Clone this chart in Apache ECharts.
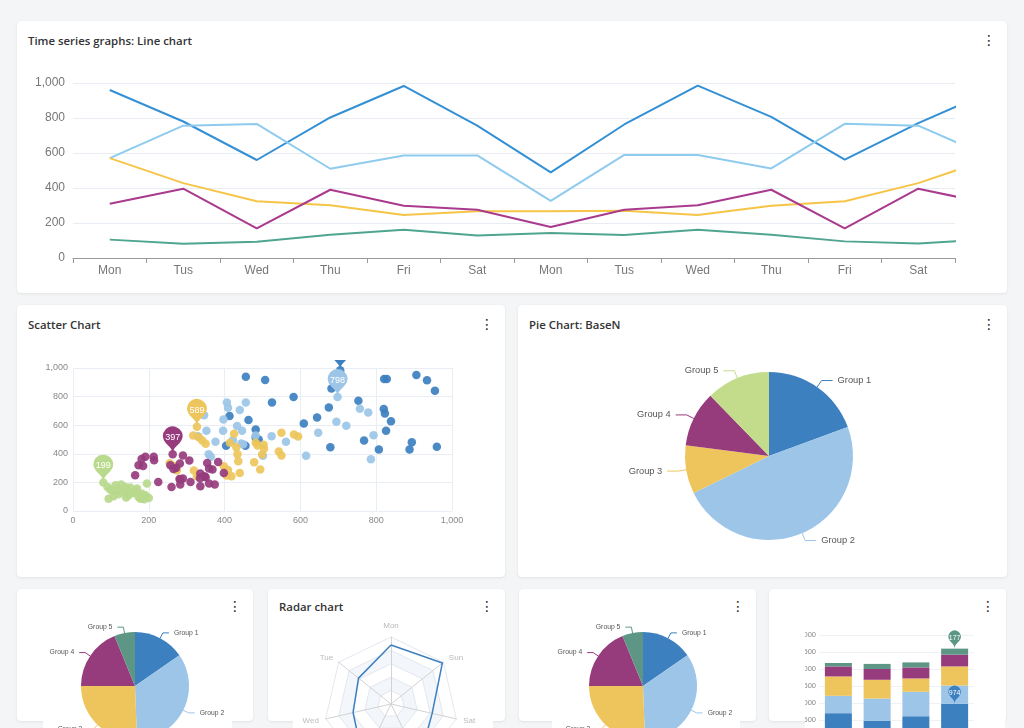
<!DOCTYPE html>
<html><head><meta charset="utf-8">
<script src="https://cdn.jsdelivr.net/npm/echarts@6/dist/echarts.min.js"></script>
<style>
html,body{margin:0;padding:0;width:1024px;height:728px;overflow:hidden;background:#f4f5f7;}
.card{position:absolute;background:#fff;border-radius:4px;box-shadow:0 1px 3px rgba(0,0,0,0.07),0 0 1px rgba(0,0,0,0.06);}
.title{position:absolute;left:11px;top:12px;font-family:'Open Sans',sans-serif;font-weight:600;font-size:11.4px;color:#333;line-height:16px;white-space:nowrap;}
.kebab{position:absolute;right:11px;top:10px;font-family:'DejaVu Sans',sans-serif;font-size:14px;color:#222;line-height:18px;}
.chart{position:absolute;z-index:2;}
.low .title{top:10px;}
.low .kebab{top:8px;}
</style></head>
<body>
<div class="card" style="left:17px;top:21px;width:990px;height:272px;"><div class="title">Time series graphs: Line chart</div><div class="kebab">⋮</div></div>
<div class="card" style="left:17px;top:305px;width:488px;height:272px;"><div class="title">Scatter Chart</div><div class="kebab">⋮</div></div>
<div class="card" style="left:518px;top:305px;width:489px;height:272px;"><div class="title">Pie Chart: BaseN</div><div class="kebab">⋮</div></div>
<div class="card low" style="left:17px;top:589px;width:236px;height:132px;"><div class="kebab">⋮</div></div>
<div class="card low" style="left:268px;top:589px;width:237px;height:132px;"><div class="title">Radar chart</div><div class="kebab">⋮</div></div>
<div class="card low" style="left:519px;top:589px;width:237px;height:132px;"><div class="kebab">⋮</div></div>
<div class="card low" style="left:769px;top:589px;width:237px;height:132px;"><div class="kebab">⋮</div></div>

<div id="cLine" class="chart" style="left:17px;top:60px;width:990px;height:233px;"></div>
<div id="cScatter" class="chart" style="left:17px;top:360px;width:488px;height:217px;"></div>
<div id="cPie" class="chart" style="left:518px;top:340px;width:489px;height:237px;"></div>
<div id="cPie2" class="chart" style="left:43px;top:615px;width:189px;height:130px;background:#fff;"></div>
<div id="cRadar" class="chart" style="left:293px;top:612px;width:200px;height:140px;background:#fff;"></div>
<div id="cPie3" class="chart" style="left:552px;top:615px;width:188px;height:130px;background:#fff;"></div>
<div id="cBar" class="chart" style="left:805px;top:620px;width:200px;height:130px;background:#fff;"></div>

<script>
// ---------- data ----------
const lineDays = ['Mon','Tus','Wed','Thu','Fri','Sat','Mon','Tus','Wed','Thu','Fri','Sat'];
const lineDarkBlue  = [960, 780, 560, 803, 983, 756, 489, 763, 985, 806, 562, 771, 955];
const lineLightBlue = [571, 756, 766, 510, 586, 586, 326, 589, 589, 512, 767, 756, 574];
const lineYellow    = [571, 428, 324, 301, 246, 267, 267, 270, 246, 299, 324, 428, 570];
const linePurple    = [310, 396, 169, 390, 299, 276, 177, 276, 301, 390, 169, 396, 308];
const lineTeal      = [105, 82, 93, 133, 162, 129, 143, 131, 162, 133, 95, 83, 107];

const scatterDarkBlue = [[456,939],[507,916],[525,759],[582,797],[413,664],[463,636],[404,456],[455,456],[482,570],[482,514],[490,500],[609,612],[644,654],[675,724],[682,857],[679,446],[753,771],[768,493],[807,430],[820,713],[823,682],[826,561],[839,628],[821,923],[828,923],[888,430],[894,481],[906,951],[934,914],[955,841],[960,449],[705,985]];
const scatterLightBlue = [[346,670],[352,561],[330,523],[376,484],[358,397],[364,379],[396,561],[397,640],[406,759],[409,722],[440,706],[456,759],[433,594],[446,561],[422,495],[444,472],[449,467],[501,386],[524,523],[562,484],[615,386],[647,547],[695,624],[698,798],[721,596],[757,715],[779,689],[793,530],[786,362],[482,528]];
const scatterYellow = [[327,589],[317,528],[332,516],[341,493],[350,470],[255,334],[270,313],[274,283],[319,283],[327,243],[398,313],[409,287],[405,248],[418,243],[414,477],[425,540],[431,446],[434,397],[436,348],[440,266],[478,341],[482,477],[487,458],[494,290],[503,463],[504,435],[499,395],[550,547],[583,535],[594,521],[543,416],[550,388]];
const scatterPurple = [[164,250],[173,320],[185,315],[191,379],[213,379],[214,355],[225,203],[257,320],[263,397],[260,168],[272,301],[282,332],[290,388],[283,220],[283,185],[290,227],[307,353],[310,203],[336,262],[336,173],[354,336],[359,297],[368,290],[347,243],[359,192],[374,185],[383,343],[398,266],[181,364],[265,294],[281,224],[350,236],[335,229]];
const scatterGreen = [[80,199],[91,168],[98,150],[112,180],[127,185],[138,168],[151,164],[169,157],[195,192],[94,86],[107,103],[120,145],[135,133],[147,110],[160,126],[173,98],[182,121],[191,110],[200,91],[178,86],[188,82],[120,117],[132,145],[155,133],[105,140],[165,140],[185,105],[140,95]];

const pieGroups = ['Group 1','Group 2','Group 3','Group 4','Group 5'];
const pieBigValues = [19.4, 48.4, 9.3, 10.7, 12.3];
const pieSmallValues = [15.4, 34.0, 25.6, 18.8, 6.2];

const radarDays = ['Mon','Tue','Wed','Thu','Fri','Sat','Sun'];
const radarValues = [88, 62, 58, 95, 96, 63, 98];

const barCats = ['A','B','C','D'];
const barDarkBlue  = [700, 481, 611, 974];
const barLightBlue = [511, 650, 718, 541];
const barYellow    = [570, 552, 393, 561];
const barPurple    = [295, 317, 325, 346];
const barTeal      = [101, 150, 147, 177];

const yTicks = {min:0, max:1000, interval:200};

// ---------- helpers ----------
const FONT = "'Liberation Sans', Arial, sans-serif";
const fmt = v => Number(v).toLocaleString('en-US');
function mk(id){ return echarts.init(document.getElementById(id), null, {renderer:'canvas'}); }

// ---------- line chart ----------
const lineColors = ['#3490d4','#8ecbee','#f6c548','#a93a8d','#4fa58f'];
const lineSets = [lineDarkBlue, lineLightBlue, lineYellow, linePurple, lineTeal];
mk('cLine').setOption({
  animation:false,
  textStyle:{fontFamily:FONT},
  grid:{left:56, top:23, width:882, height:175, outerBoundsMode:'none', containLabel:false},
  xAxis:{type:'category', data:lineDays, max:lineDays.length-1, boundaryGap:true,
    axisLine:{lineStyle:{color:'#999', width:1}},
    axisTick:{show:true, length:5, lineStyle:{color:'#999'}},
    axisLabel:{color:'#777', fontSize:12, margin:7, fontFamily:FONT},
    splitLine:{show:false}},
  yAxis:{type:'value', min:yTicks.min, max:yTicks.max, interval:yTicks.interval,
    axisLine:{show:false}, axisTick:{show:false},
    axisLabel:{color:'#777', fontSize:12, margin:8, formatter:fmt, fontFamily:FONT},
    splitLine:{lineStyle:{color:'#e8edf3'}}},
  series: lineSets.map((d,i)=>({type:'line', data:d, showSymbol:false, symbol:'none', clip:true,
    lineStyle:{color:lineColors[i], width:2}, itemStyle:{color:lineColors[i]}}))
});

// ---------- scatter chart ----------
const scatColors = ['#3d80c0','#9cc5e8','#edc55c','#963c7d','#b9d98c'];
const scatSets = [scatterDarkBlue, scatterLightBlue, scatterYellow, scatterPurple, scatterGreen];
const scatAxis = {type:'value', min:0, max:1000, interval:200,
  axisLine:{show:false}, axisTick:{show:false},
  axisLabel:{color:'#888', fontSize:9, margin:5, formatter:fmt, fontFamily:FONT},
  splitLine:{lineStyle:{color:'#e9eef5'}}};
mk('cScatter').setOption({
  animation:false,
  textStyle:{fontFamily:FONT},
  grid:{left:56, top:8, width:379, height:143, outerBoundsMode:'none', containLabel:false},
  xAxis: Object.assign({}, scatAxis),
  yAxis: Object.assign({}, scatAxis),
  series: scatSets.map((d,i)=>({type:'scatter', data:d, symbolSize:8.5,
    itemStyle:{color:scatColors[i], opacity:0.92},
    markPoint:{symbol:'pin', symbolSize:[33,32], data:[{type:'max'}],
      itemStyle:{color:scatColors[i]},
      label:{color:'#fff', fontSize:9, fontFamily:FONT}}}))
});

// ---------- pies ----------
const pieColorsBig = ['#3d80c0','#9cc5e8','#edc55c','#963c7d','#c3dc8c'];
const pieColorsSmall = ['#3d80c0','#9cc5e8','#edc55c','#963c7d','#5e9685'];
mk('cPie').setOption({
  animation:false,
  textStyle:{fontFamily:FONT},
  series:[{type:'pie', radius:84, center:[251,116], startAngle:90, clockwise:true,
    data: pieGroups.map((g,i)=>({name:g, value:pieBigValues[i], itemStyle:{color:pieColorsBig[i]}})),
    itemStyle:{borderWidth:0, borderRadius:0},
    label:{formatter:'{b}', color:'#555', fontSize:9.3, fontFamily:FONT},
    labelLine:{length:8, length2:11, lineStyle:{width:1}}}]
});
function smallPie(id, cx){
  mk(id).setOption({
    animation:false,
    textStyle:{fontFamily:FONT},
    series:[{type:'pie', radius:54, center:[cx,71], startAngle:90, clockwise:true,
      data: pieGroups.map((g,i)=>({name:g, value:pieSmallValues[i], itemStyle:{color:pieColorsSmall[i]}})),
      itemStyle:{borderWidth:0, borderRadius:0},
      label:{formatter:'{b}', color:'#555', fontSize:6.8, fontFamily:FONT, overflow:'none'},
      labelLine:{length:6, length2:6, lineStyle:{width:1}}}]
  });
}
smallPie('cPie2', 92);
smallPie('cPie3', 91);

// ---------- radar ----------
mk('cRadar').setOption({
  animation:false,
  textStyle:{fontFamily:FONT},
  radar:{center:[98,92], radius:67, startAngle:90, splitNumber:5, shape:'polygon',
    indicator: radarDays.map(d=>({name:d, max:100})),
    axisName:{color:'#bbb', fontSize:8, fontFamily:FONT}, nameGap:7,
    splitLine:{lineStyle:{color:'#e3e7ee'}},
    splitArea:{show:true, areaStyle:{color:['#ffffff','#f3f6fb']}},
    axisLine:{lineStyle:{color:'#d3d3d3'}}},
  series:[{type:'radar', symbol:'none', data:[{value:radarValues, name:'Week'}],
    lineStyle:{color:'#3d80c0', width:1.5}, itemStyle:{color:'#3d80c0'}}]
});

// ---------- stacked bar ----------
const barColors = ['#3d80c0','#9cc5e8','#edc55c','#963c7d','#5e9685'];
const barSets = [barDarkBlue, barLightBlue, barYellow, barPurple, barTeal];
const barPin = {0:true, 4:true};
mk('cBar').setOption({
  animation:false,
  textStyle:{fontFamily:FONT},
  grid:{left:14, top:15, width:155, height:102, outerBoundsMode:'none', containLabel:false},
  xAxis:{type:'category', data:barCats, axisLine:{show:false}, axisTick:{show:false},
    axisLabel:{color:'#888', fontSize:7}},
  yAxis:{type:'value', min:0, max:3000, interval:500,
    axisLine:{show:false}, axisTick:{show:false},
    axisLabel:{color:'#888', fontSize:7.5, margin:3, formatter:fmt, fontFamily:FONT},
    splitLine:{lineStyle:{color:'#eef1f5'}}},
  series: barSets.map((d,i)=>{
    const s = {type:'bar', stack:'total', data:d, barWidth:27, itemStyle:{color:barColors[i]}};
    if (barPin[i]) s.markPoint = {symbol:'pin', symbolSize:[21,21], data:[{type:'max'}],
      itemStyle:{color:barColors[i]}, label:{color:'#fff', fontSize:7, fontFamily:FONT}};
    return s;
  })
});
</script>
</body></html>
